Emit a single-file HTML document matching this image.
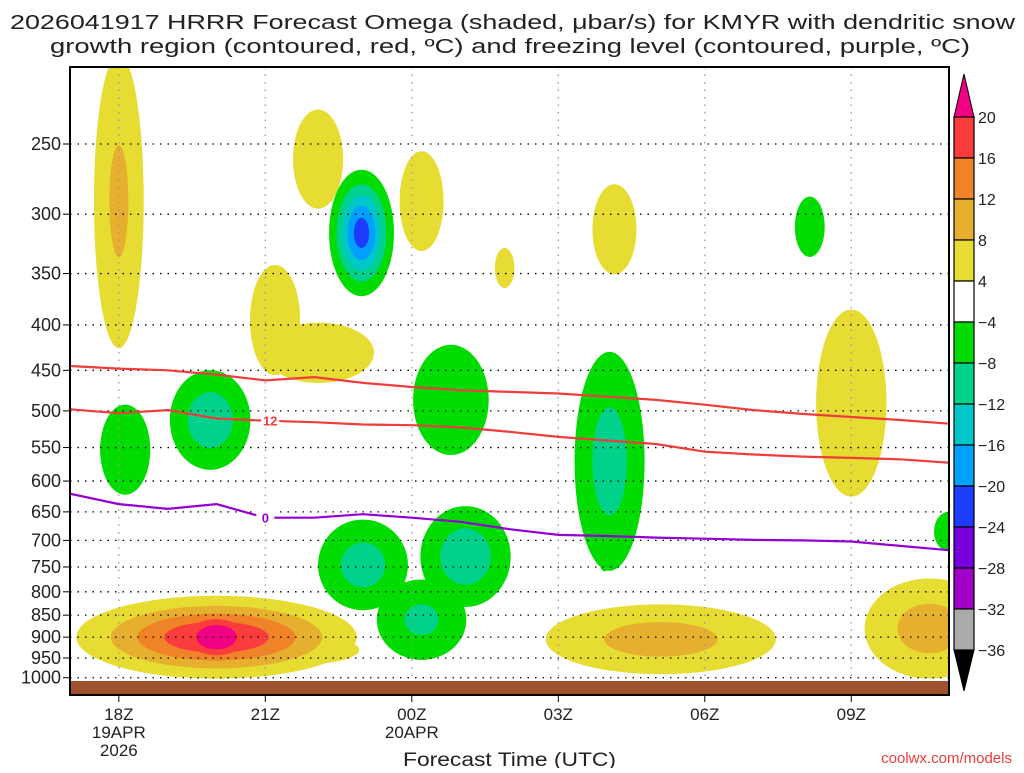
<!DOCTYPE html>
<html><head><meta charset="utf-8"><style>
body{margin:0;background:#fff;width:1024px;height:768px;overflow:hidden}
svg text{font-family:"Liberation Sans",sans-serif;fill:#222}
</style></head><body>
<svg id="c" width="1024" height="768" viewBox="0 0 1024 768">
<defs><clipPath id="pc"><rect x="70" y="67" width="879" height="628"/></clipPath></defs>
<text x="10" y="29" font-size="20" textLength="1005" lengthAdjust="spacingAndGlyphs">2026041917 HRRR Forecast Omega (shaded, μbar/s) for KMYR with dendritic snow</text>
<text x="50" y="53" font-size="20" textLength="920" lengthAdjust="spacingAndGlyphs">growth region (contoured, red, ºC) and freezing level (contoured, purple, ºC)</text>
<g id="shade" clip-path="url(#pc)"></g>
<g id="grid"></g>
<rect x="70" y="681" width="879" height="14" fill="#a0522d"/>
<g id="lines" clip-path="url(#pc)"></g>
<rect x="70" y="67" width="879" height="628" fill="none" stroke="#000" stroke-width="2"/>
<g id="axes"></g>
<g id="cbar"></g>
<text x="403" y="766" font-size="19" textLength="213" lengthAdjust="spacingAndGlyphs">Forecast Time (UTC)</text>
<text x="1012" y="763" font-size="15" text-anchor="end" style="fill:#e83c3c">coolwx.com/models</text>
</svg>
<script>
const pLevels=[250,300,350,400,450,500,550,600,650,700,750,800,850,900,950,1000];
const timeHours=[1,4,7,10,13,16];
const timeLabels=[["18Z","19APR","2026"],["21Z"],["00Z","20APR"],["03Z"],["06Z"],["09Z"]];
const upperRed=[445,448,450,455,462,458,465,470,474,476,478,482,486,492,499,504,508,512,517];
const lowerRed=[498,503,499,510,513,515,518,519,522,528,535,540,545,556,560,563,565,567,572];
const freezing=[620,637,645,637,660,660,654,660,667,680,690,692,695,697,699,700,702,710,718];
const blobT=[1.0,3.0,3.0,4.7,5.08,4.2,5.1,5.97,7.2,8.9,11.15,15.15,16,1.13,2.87,7.8,11.05,10.95,6.0,8.1,7.2,12.1,17.6,18.0];
const blobP=[290,900,900,930,260,395,430,315,290,345,312,310,490,553,512,486,570,720,746,730,860,905,880,684];
const blobA=[9,20,24,6,6,6,6,-22,6,5,6,-6,6,-6,-11,-6,-10,-6,-10,-11,-9,10,10,-6];
const blobSt=[0.4,1.6,0.68,1.36,0.57,0.57,1.25,0.36,0.5,0.3,0.5,0.34,0.8,0.57,0.58,0.86,0.53,0.16,0.68,0.65,0.72,1.74,0.98,0.34];
const blobSl=[0.30,0.06,0.052,0.043,0.143,0.159,0.087,0.089,0.144,0.078,0.13,0.087,0.27,0.13,0.091,0.159,0.21,0.058,0.087,0.092,0.082,0.067,0.096,0.057];
const cbLabels=["20","16","12","8","4","-4","-8","-12","-16","-20","-24","-28","-32","-36"];
const posLevels=[4,8,12,16,20],posCols=["#e6dc32","#e6af2d","#f08228","#fa3c3c","#f00082"];
const negLevels=[-4,-8,-12,-16,-20,-24,-28,-32],negCols=["#00dc00","#00d28c","#00c8c8","#00a0ff","#1e3cff","#7800dc","#a000c8","#aaaaaa"];
const NS="http://www.w3.org/2000/svg";
const PXH=48.83,PXL=385;
function xs(h){return 70+h*PXH}
function ys(p){return 144+PXL*Math.log(p/250)}
function mk(tag,at,parent){const e=document.createElementNS(NS,tag);for(const k in at)e.setAttribute(k,at[k]);parent.appendChild(e);return e}
const shade=document.getElementById('shade');
function drawLevels(levels,cols,sign){
  levels.forEach((lv,li)=>{
    blobA.forEach((A,i)=>{
      if(Math.sign(A)!==sign||Math.abs(A)<=Math.abs(lv))return;
      const r=Math.sqrt(2*Math.log(A/lv));
      const e=mk('ellipse',{cx:xs(blobT[i]),cy:ys(blobP[i]),rx:r*blobSt[i]*PXH,ry:r*blobSl[i]*PXL,fill:cols[li]},shade);
      
      
    });
  });
}
drawLevels(posLevels,posCols,1);
drawLevels(negLevels,negCols,-1);
const grid=document.getElementById('grid'),axes=document.getElementById('axes');
pLevels.forEach(p=>{
  const y=ys(p);
  const l=mk('line',{x1:70,x2:949,y1:y,y2:y,stroke:'#000','stroke-width':1.3,'stroke-dasharray':'1.5 6'},grid);
  
  
  mk('line',{x1:63,x2:70,y1:y,y2:y,stroke:'#000'},axes);
  const t=mk('text',{x:61,y:y+6,'font-size':18,'text-anchor':'end'},axes);t.textContent=p;
  
  
});
timeHours.forEach((h,i)=>{
  const x=xs(h);
  const l=mk('line',{x1:x,x2:x,y1:67,y2:695,stroke:'#999','stroke-width':1.3,'stroke-dasharray':'1.5 6'},grid);
  
  
  mk('line',{x1:x,x2:x,y1:695,y2:702,stroke:'#000'},axes);
  timeLabels[i].forEach((s,j)=>{
    const t=mk('text',{x:x,y:720+j*18,'font-size':17,'text-anchor':'middle'},axes);t.textContent=s;
    
    
  });
});
const lines=document.getElementById('lines');
function path(arr,col,name){
  const d=arr.map((p,h)=>(h?'L':'M')+xs(h).toFixed(1)+','+ys(p).toFixed(1)).join('');
  const e=mk('path',{d:d,fill:'none',stroke:col,'stroke-width':2.2},lines);
  
  
}
path(upperRed,'#f03c3c','dgz-upper-contour');
path(lowerRed,'#f03c3c','dgz-lower-contour');
path(freezing,'#9400d3','freezing-level-contour');
function lab(txt,h,arr,col,name){
  const x=xs(h),y=ys(arr[Math.round(h)]);
  mk('rect',{x:x-9,y:y-8,width:18,height:15,fill:'#fff'},lines);
  const t=mk('text',{x:x,y:y+5,'font-size':13,'font-weight':'bold','text-anchor':'middle',style:'fill:'+col},lines);t.textContent=txt;
  
  
}
lab('12',4.1,lowerRed,'#f03c3c','dgz-contour-label');
lab('0',4.0,freezing,'#9400d3','freezing-contour-label');
const cb=document.getElementById('cbar');
const cbCols=["#fa3c3c","#f08228","#e6af2d","#e6dc32","#ffffff","#00dc00","#00d28c","#00c8c8","#00a0ff","#1e3cff","#7800dc","#a000c8","#aaaaaa"];
const y0=117,st=41.0;
let tr=mk('polygon',{points:`954,${y0} 974,${y0} 964,74`,fill:'#f00082',stroke:'#000'},cb);

cbCols.forEach((c,i)=>{
  const r=mk('rect',{x:954,y:y0+i*st,width:20,height:st,fill:c,stroke:'#000','stroke-width':1.2},cb);
  
  
});
const yb=y0+cbCols.length*st;
tr=mk('polygon',{points:`954,${yb} 974,${yb} 964,691`,fill:'#000',stroke:'#000'},cb);

cbLabels.forEach((s,i)=>{
  const t=mk('text',{x:978,y:y0+i*st+6,'font-size':16},cb);t.textContent=s.replace('-','\u2212');
  
  
});
</script>
</body></html>
